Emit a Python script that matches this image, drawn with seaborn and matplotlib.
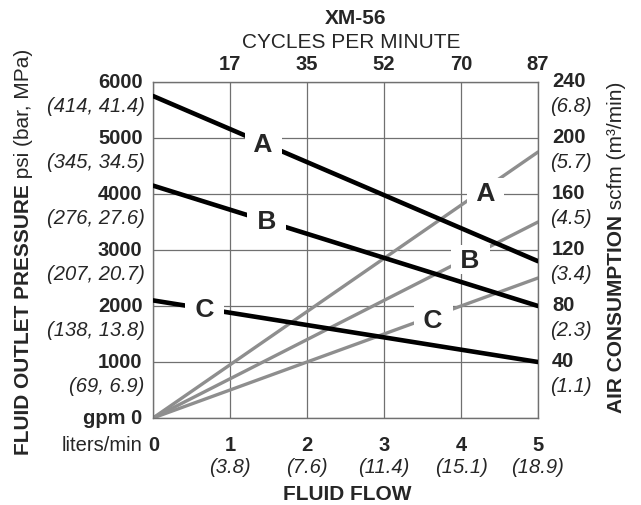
import matplotlib
matplotlib.use("Agg")
import matplotlib.pyplot as plt
import seaborn as sns

# -----------------------------------
# Chart data
# -----------------------------------

flow_gpm = [0, 5]

# fluid outlet pressure, psi (black lines)
pressure_a = [5750, 2800]
pressure_b = [4150, 2000]
pressure_c = [2100, 1000]

# air consumption, scfm (gray lines)
air_a = [0, 190]
air_b = [0, 140]
air_c = [0, 100]

model_names = ["A", "B", "C"]

psi_ticks = [6000, 5000, 4000, 3000, 2000, 1000]
bar_mpa_labels = ["(414, 41.4)", "(345, 34.5)", "(276, 27.6)",
                  "(207, 20.7)", "(138, 13.8)", "(69, 6.9)"]

scfm_ticks = [240, 200, 160, 120, 80, 40]
m3_labels = ["(6.8)", "(5.7)", "(4.5)", "(3.4)", "(2.3)", "(1.1)"]

flow_ticks = [1, 2, 3, 4, 5]
lpm_labels = ["(3.8)", "(7.6)", "(11.4)", "(15.1)", "(18.9)"]
cycles_labels = ["17", "35", "52", "70", "87"]

# where the curve letters sit
pressure_label_flow = [1.43, 1.48, 0.675]
pressure_label_psi = [4900, 3520, 1940]
air_label_flow = [4.32, 4.12, 3.64]
air_label_scfm = [161, 113, 70]

# -----------------------------------
# Style
# -----------------------------------

sns.set_style("white")
plt.rcParams["font.family"] = ["Liberation Sans", "DejaVu Sans"]

GRID = "#707070"
GRAY = "#8e8e8e"
FS = 14.5

fig = plt.figure(figsize=(6.41, 5.06), dpi=100)
ax = fig.add_axes([153 / 641, 87 / 506, 385 / 641, 336 / 506])   # air scale
ax2 = ax.twinx()                                                  # psi scale

# -----------------------------------
# Lines
# -----------------------------------

for vals in [air_a, air_b, air_c]:
    sns.lineplot(x=flow_gpm, y=vals, ax=ax, color=GRAY, lw=2.4)

for vals in [pressure_a, pressure_b, pressure_c]:
    sns.lineplot(x=flow_gpm, y=vals, ax=ax2, color="black", lw=3.3)

ax.set_xlim(0, 5)
ax.set_ylim(0, 240)
ax2.set_ylim(0, 6000)

ax.set_xticks(range(0, 6))
ax.set_yticks([0] + scfm_ticks)
ax.grid(True, color=GRID, lw=0.9)
ax.set_axisbelow(True)

for sp in ax.spines.values():
    sp.set_color(GRID)
    sp.set_linewidth(1.0)
for sp in ax2.spines.values():
    sp.set_visible(False)

ax.tick_params(length=0, labelleft=False, labelbottom=False)
ax2.tick_params(length=0, labelright=False)
ax.set_xlabel("")
ax.set_ylabel("")
ax2.set_ylabel("")

# -----------------------------------
# Curve letters
# -----------------------------------

box = dict(boxstyle="square,pad=0.1", fc="white", ec="none")

for name, fx, fy in zip(model_names, pressure_label_flow, pressure_label_psi):
    ax2.text(fx, fy, " " + name + " ", ha="center", va="center",
             fontsize=19, fontweight="bold", bbox=box, zorder=5)

for name, fx, fy in zip(model_names, air_label_flow, air_label_scfm):
    ax.text(fx, fy, " " + name + " ", ha="center", va="center",
            fontsize=19, fontweight="bold", bbox=box, zorder=5)

# -----------------------------------
# Tick labels
# -----------------------------------

ytr = ax2.get_yaxis_transform()
for psi, lab in zip(psi_ticks, bar_mpa_labels):
    ax2.annotate(str(psi), xy=(0, psi), xycoords=ytr, xytext=(-7.5, 0),
                 textcoords="offset points", ha="right", va="center",
                 fontsize=FS, fontweight="bold", annotation_clip=False)
    ax2.annotate(lab, xy=(0, psi), xycoords=ytr, xytext=(-6, -17),
                 textcoords="offset points", ha="right", va="center",
                 fontsize=FS, style="italic", annotation_clip=False)

ax2.annotate("gpm 0", xy=(0, 0), xycoords=ytr, xytext=(-8, 0),
             textcoords="offset points", ha="right", va="center",
             fontsize=FS, fontweight="bold", annotation_clip=False)

rtr = ax.get_yaxis_transform()
for scfm, lab in zip(scfm_ticks, m3_labels):
    ax.annotate(str(scfm), xy=(1, scfm), xycoords=rtr, xytext=(10, 1),
                textcoords="offset points", ha="left", va="center",
                fontsize=FS, fontweight="bold", annotation_clip=False)
    ax.annotate(lab, xy=(1, scfm), xycoords=rtr, xytext=(9, -17),
                textcoords="offset points", ha="left", va="center",
                fontsize=FS, style="italic", annotation_clip=False)

xtr = ax.get_xaxis_transform()
ax.annotate("0", xy=(0, 0), xycoords=xtr, xytext=(0.5, -19),
            textcoords="offset points", ha="center", va="center",
            fontsize=FS, fontweight="bold", annotation_clip=False)
ax.annotate("liters/min", xy=(0, 0), xycoords=xtr, xytext=(-8, -19),
            textcoords="offset points", ha="right", va="center",
            fontsize=FS, annotation_clip=False)

for f, lab, cyc in zip(flow_ticks, lpm_labels, cycles_labels):
    ax.annotate(str(f), xy=(f, 0), xycoords=xtr, xytext=(0, -19),
                textcoords="offset points", ha="center", va="center",
                fontsize=FS, fontweight="bold", annotation_clip=False)
    ax.annotate(lab, xy=(f, 0), xycoords=xtr, xytext=(0, -35),
                textcoords="offset points", ha="center", va="center",
                fontsize=FS, style="italic", annotation_clip=False)
    ax.annotate(cyc, xy=(f, 1), xycoords=xtr, xytext=(0, 13),
                textcoords="offset points", ha="center", va="center",
                fontsize=FS, fontweight="bold", annotation_clip=False)

# -----------------------------------
# Titles and axis names
# -----------------------------------

fig.text(0.555, 0.9625, "XM-56", ha="center", va="center",
         fontsize=15, fontweight="bold")
fig.text(0.548, 0.916, "CYCLES PER MINUTE", ha="center", va="center",
         fontsize=15)
fig.text(0.542, 0.022, "FLUID FLOW", ha="center", va="center",
         fontsize=15, fontweight="bold")

left_bold = fig.text(0.037, 0.101, "FLUID OUTLET PRESSURE", rotation=90,
                     ha="center", va="bottom", fontsize=15, fontweight="bold")
ax.annotate(" psi (bar, MPa)", xy=(0.5, 1), xycoords=left_bold,
            rotation=90, ha="center", va="bottom", fontsize=15,
            annotation_clip=False)

right_bold = fig.text(0.9618, 0.184, "AIR CONSUMPTION", rotation=90,
                      ha="center", va="bottom", fontsize=15, fontweight="bold")
ax.annotate(" scfm (m\u00b3/min)", xy=(0.5, 1), xycoords=right_bold,
            rotation=90, ha="center", va="bottom", fontsize=15,
            annotation_clip=False)

fig.savefig("out.png", dpi=100)
